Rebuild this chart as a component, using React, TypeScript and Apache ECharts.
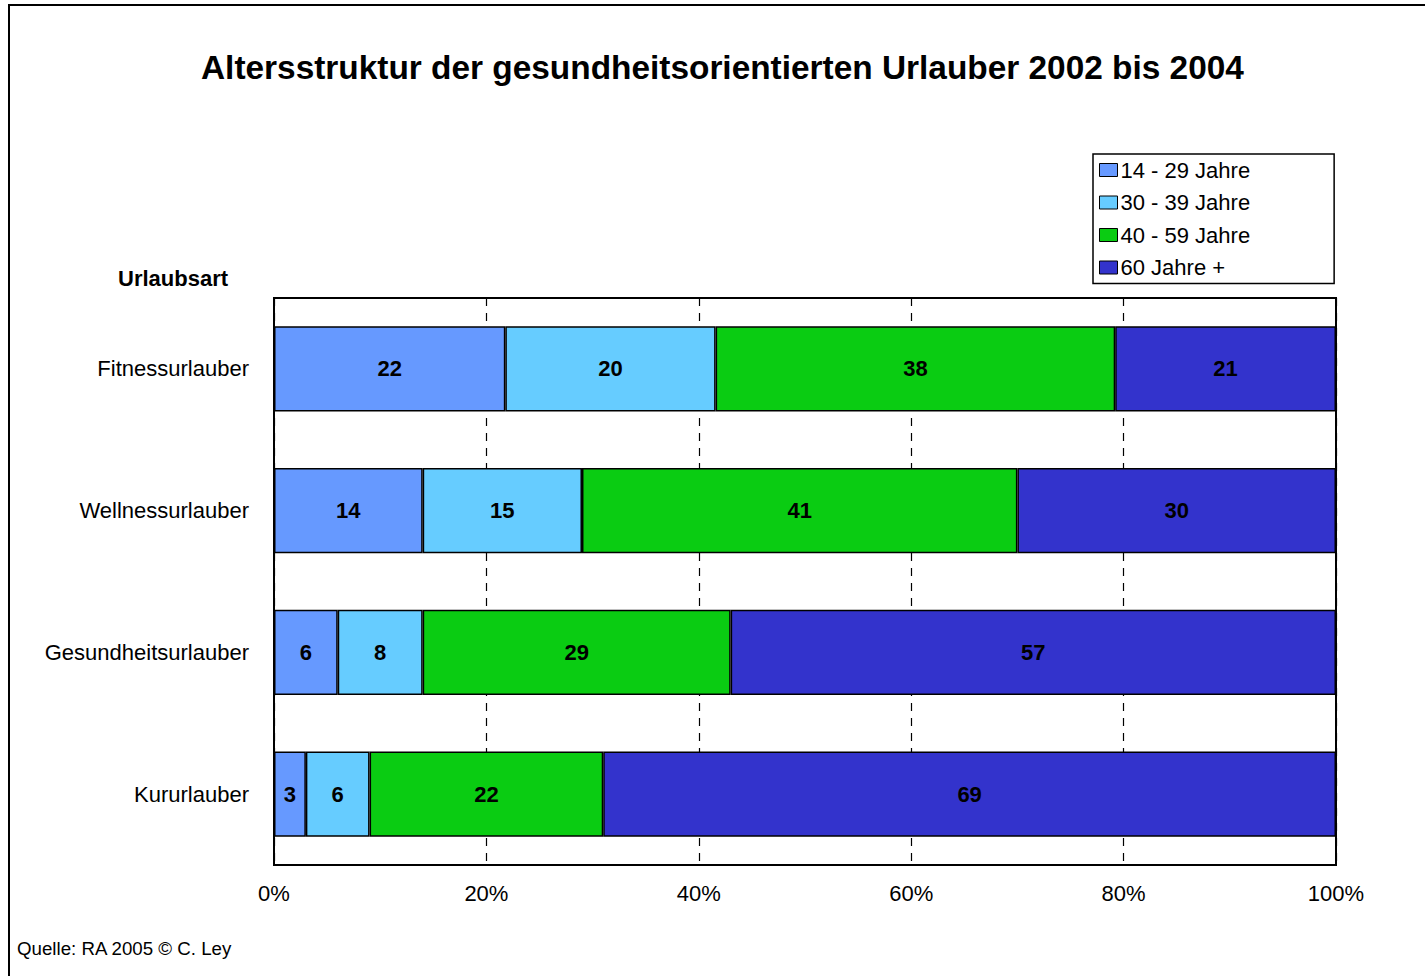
import React, { useEffect, useRef } from "react";
import * as echarts from "echarts";

const categories = ["Fitnessurlauber", "Wellnessurlauber", "Gesundheitsurlauber", "Kururlauber"];
const seriesNames = ["14 - 29 Jahre", "30 - 39 Jahre", "40 - 59 Jahre", "60 Jahre +"];
const age14to29 = [22, 14, 6, 3];
const age30to39 = [20, 15, 8, 6];
const age40to59 = [38, 41, 29, 22];
const age60plus = [21, 30, 57, 69];
const xTicks = [0, 20, 40, 60, 80, 100];
const colors = ["#6699FF", "#66CCFF", "#0ACC12", "#3333CC"];

const FONT = "Liberation Sans, Arial, sans-serif";

export default function App() {
  const ref = useRef<HTMLDivElement>(null);
  useEffect(() => {
    if (!ref.current) return;
    const chart = echarts.init(ref.current, undefined, { renderer: "svg" });
    const all = [age14to29, age30to39, age40to59, age60plus];
    const totals = categories.map((_, i) => all.reduce((s, a) => s + a[i], 0));
    const series = all.map((arr, k) => ({
      name: seriesNames[k],
      type: "bar",
      stack: "total",
      barCategoryGap: "40%",
      data: arr.map((v, i) => (v / totals[i]) * 100),
      itemStyle: { color: colors[k], borderColor: "#000", borderWidth: 1.5 },
      label: {
        show: true,
        position: "inside",
        color: "#000",
        fontWeight: "bold",
        fontSize: 22,
        fontFamily: FONT,
        formatter: (p: any) => String(arr[p.dataIndex]),
      },
    }));
    chart.setOption({
      animation: false,
      backgroundColor: "#fff",
      textStyle: { fontFamily: FONT },
      title: {
        text: "Altersstruktur der gesundheitsorientierten Urlauber 2002 bis 2004",
        left: 201,
        top: 51,
        padding: 0,
        textStyle: { fontSize: 33.4, fontWeight: "bold", color: "#000", fontFamily: FONT },
      },
      legend: {
        orient: "vertical",
        left: 1093,
        top: 154,
        data: seriesNames,
        icon: "rect",
        itemWidth: 18,
        itemHeight: 13,
        itemGap: 10.5,
        itemStyle: { borderColor: "#000", borderWidth: 1 },
        padding: [5, 84, 5, 6],
        borderColor: "#000",
        borderWidth: 1.5,
        backgroundColor: "#fff",
        textStyle: { fontSize: 22, color: "#000", fontFamily: FONT, lineHeight: 22, padding: [0, 0, 0, -2] },
      },
      grid: {
        left: 274,
        right: 89,
        top: 298,
        bottom: 111,
        show: true,
        borderColor: "#000",
        borderWidth: 2,
        backgroundColor: "#fff",
        containLabel: false,
      },
      xAxis: {
        type: "value",
        min: xTicks[0],
        max: xTicks[xTicks.length - 1],
        interval: 20,
        axisLine: { show: false },
        axisTick: { show: false },
        axisLabel: {
          formatter: "{value}%",
          fontSize: 22,
          color: "#000",
          margin: 17,
          fontFamily: FONT,
        },
        splitLine: { show: true, lineStyle: { color: "#000", type: [8, 7], width: 1.2 } },
      },
      yAxis: {
        type: "category",
        inverse: true,
        data: categories,
        axisLine: { show: false },
        axisTick: { show: false },
        axisLabel: { fontSize: 22, color: "#000", margin: 25, fontFamily: FONT },
      },
      graphic: [
        {
          type: "rect",
          shape: { x: 9, y: 5, width: 1440, height: 1000 },
          style: { fill: "none", stroke: "#000", lineWidth: 2 },
          silent: true,
          z: 100,
        },
        {
          type: "text",
          x: 118,
          y: 278,
          style: {
            text: "Urlaubsart",
            fontSize: 22,
            fontWeight: "bold",
            fill: "#000",
            fontFamily: FONT,
            verticalAlign: "middle",
          },
        },
        {
          type: "text",
          x: 17,
          y: 948,
          style: {
            text: "Quelle: RA 2005 © C. Ley",
            fontSize: 18.7,
            fill: "#000",
            fontFamily: FONT,
            verticalAlign: "middle",
          },
        },
      ],
      series,
    });
    return () => chart.dispose();
  }, []);
  return (
    <div
      ref={ref}
      style={{ position: "fixed", left: 0, top: 0, width: 1425, height: 976 }}
    />
  );
}
